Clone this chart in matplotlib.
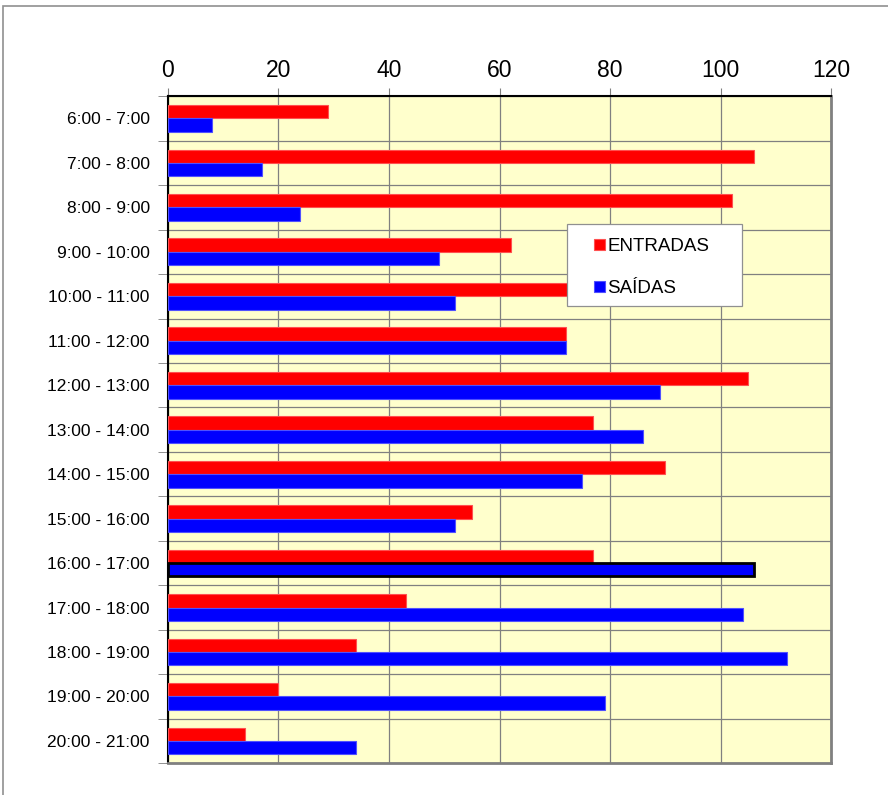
import numpy as np
import matplotlib.pyplot as plt
from matplotlib.patches import Rectangle

plt.rcParams['font.family'] = ['Liberation Sans', 'DejaVu Sans']

horarios = ["6:00 - 7:00", "7:00 - 8:00", "8:00 - 9:00", "9:00 - 10:00",
            "10:00 - 11:00", "11:00 - 12:00", "12:00 - 13:00", "13:00 - 14:00",
            "14:00 - 15:00", "15:00 - 16:00", "16:00 - 17:00", "17:00 - 18:00",
            "18:00 - 19:00", "19:00 - 20:00", "20:00 - 21:00"]
entradas = [29, 106, 102, 62, 80, 72, 105, 77, 90, 55, 77, 43, 34, 20, 14]
saidas = [8, 17, 24, 49, 52, 72, 89, 86, 75, 52, 106, 104, 112, 79, 34]

fig = plt.figure(figsize=(8.88, 7.95), dpi=100)
ax = fig.add_axes([0.189, 0.040, 0.747, 0.839])
ax.set_facecolor("#FFFFCC")

y = np.arange(len(horarios))
h = 0.3
ax.barh(y - h / 2, entradas, height=h, color="#FF0000", edgecolor="#FF5050",
        linewidth=0.8, label="ENTRADAS", zorder=3)
bars_s = ax.barh(y + h / 2, saidas, height=h, color="#0000FF", edgecolor="#5050FF",
                 linewidth=0.8, label="SAÍDAS", zorder=3)
# selected bar
bars_s[10].set_edgecolor("black")
bars_s[10].set_linewidth(2)

ax.set_xlim(0, 120)
ax.set_ylim(len(horarios) - 0.5, -0.5)
ax.set_xticks(np.arange(0, 121, 20))
ax.xaxis.tick_top()
ax.tick_params(axis="x", labelsize=16.5, length=6, color="#808080", pad=4)
ax.set_yticks(y)
ax.set_yticklabels(horarios)
ax.tick_params(axis="y", which="major", length=0, labelsize=12.5, pad=13)
ax.set_yticks(np.arange(-0.5, len(horarios), 1), minor=True)
ax.tick_params(axis="y", which="minor", length=7, color="#808080")

ax.grid(axis="x", color="#808080", linewidth=0.9, zorder=1)
ax.grid(axis="y", which="minor", color="#808080", linewidth=0.9, zorder=1)
ax.grid(axis="y", which="major", visible=False)
ax.set_axisbelow(True)

ax.spines["left"].set_color("black")
ax.spines["top"].set_color("black")
ax.spines["left"].set_linewidth(1.5)
ax.spines["top"].set_linewidth(1.5)
ax.spines["right"].set_color("#808080")
ax.spines["bottom"].set_color("#808080")
ax.spines["right"].set_linewidth(2)
ax.spines["bottom"].set_linewidth(2)

# legend box drawn separately so its size can be fixed
ax.add_patch(Rectangle((0.602, 0.685), 0.264, 0.123, transform=ax.transAxes,
                       facecolor="white", edgecolor="#909090", linewidth=0.9,
                       zorder=5))
leg = ax.legend(loc="center left", bbox_to_anchor=(0.643, 0.743), fontsize=13.5,
                frameon=False, handlelength=0.55, handleheight=0.55,
                handletextpad=0.15, labelspacing=1.3, borderpad=0,
                borderaxespad=0)
leg.set_zorder(6)

# outer chart border
fig.patches.append(Rectangle((0.003, -0.01), 1.1, 1.0025,
                             transform=fig.transFigure, fill=False,
                             edgecolor="#909090", linewidth=1.2))

fig.savefig("out.png", dpi=100)
